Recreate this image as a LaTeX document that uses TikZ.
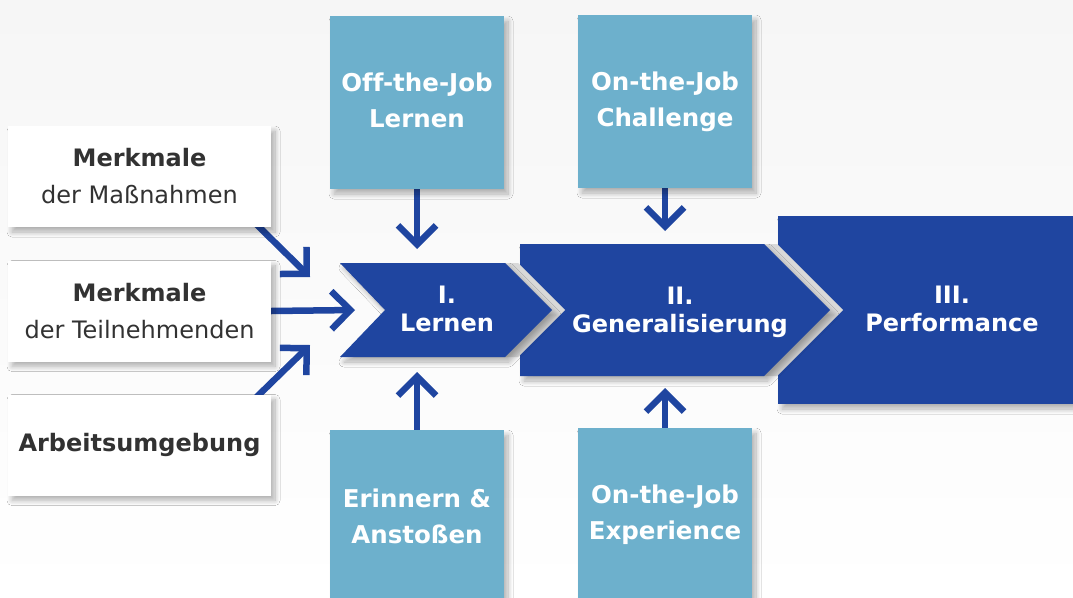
\documentclass[tikz,border=0pt]{standalone}
\usepackage{fontspec}
\setmainfont{DejaVu Sans}[Ligatures=NoCommon]
\usetikzlibrary{arrows.meta}
\usetikzlibrary{shadows.blur}
\definecolor{darkblue}{RGB}{31,69,160}
\definecolor{lightblue}{RGB}{109,176,204}
\definecolor{textgray}{RGB}{50,50,50}
\definecolor{backgray}{RGB}{246,246,246}
\pgfdeclarelayer{bg}
\pgfsetlayers{bg,main}

\begin{document}
\begin{tikzpicture}[x=1pt,y=-1pt,
	boxshadow/.style={blur shadow={shadow xshift=4pt,shadow yshift=-5pt,shadow blur radius=5pt,shadow blur steps=12,shadow opacity=30}},
	factorbox/.style={fill=white,boxshadow,minimum width=263pt,minimum height=101pt,inner sep=0pt,text=textgray,align=center,font=\fontsize{24}{37}\selectfont},
	supportbox/.style={fill=lightblue,boxshadow,minimum width=174pt,minimum height=173pt,inner sep=0pt,text=white,align=center,font=\bfseries\fontsize{24.5}{36}\selectfont},
	stagetext/.style={text=white,align=center,font=\bfseries\fontsize{24}{28}\selectfont},
	flow/.style={line width=6.5pt,darkblue,-{Straight Barb[length=19pt,width=38pt,sharp]}}
	]
	\useasboundingbox (0,0) rectangle (1073,597);
	\def\band{13};
	% stages
	\fill[darkblue,boxshadow] (778,216) rectangle (1130,404);
	\fill[gray!30] ({520+\band},244) -- ({764+\band},244) -- ({830+\band},310) -- ({764+\band},376) -- ({520+\band},376) -- cycle;
	\fill[darkblue,boxshadow] (520,244) -- (764,244) -- (830,310) -- (764,376) -- (520,376) -- cycle;
	\fill[gray!30] ({340+\band},263) -- ({505+\band},263) -- ({552+\band},310) -- ({505+\band},357) -- ({340+\band},357) -- ({385+\band},310) -- cycle;
	\fill[darkblue,boxshadow] (340,263) -- (505,263) -- (552,310) -- (505,357) -- (340,357) -- (385,310) -- cycle;
	\node[stagetext] (lernen) at (447,309) {I.\\Lernen};
	\node[stagetext] (general) at (680,312) {II.\\Generalisierung};
	\node[stagetext] (perf) at (952,309) {III.\\Performance};

	\node[supportbox] (offjob) at (417,102.5) {\raisebox{4pt}{Off-the-Job}\\\raisebox{4pt}{Lernen}};
	\node[supportbox] (challenge) at (665,101.5) {On-the-Job\\Challenge};
	\node[supportbox] (erinnern) at (417,516.5) {Erinnern \&\\Anstoßen};
	\node[supportbox] (experience) at (665,514.5) {On-the-Job\\Experience};

	\node[factorbox] (massn) at (139.5,176.5) {\textbf{Merkmale}\\der Maßnahmen};
	\node[factorbox] (teiln) at (139.5,311) {\textbf{Merkmale}\\der Teilnehmenden};
	\node[factorbox] (umgeb) at (139.5,445) {\textbf{Arbeitsumgebung}};

	\coordinate (inA) at (310,277);
	\coordinate (inB) at (355,310);
	\coordinate (inC) at (310,345);
	\coordinate (inOff) at (417,249);
	\coordinate (inChal) at (665,231);
	\coordinate (inErin) at (417,372);
	\coordinate (inExp) at (665,388);

	\begin{pgfonlayer}{bg}
		\shade[top color=backgray,bottom color=white] (0,0) rectangle (1073,597);
		\draw[flow] ([xshift=-20pt,yshift=8pt]massn.south east) -- (inA);
		\draw[flow] (teiln.east) -- (inB);
		\draw[flow] ([xshift=-20pt,yshift=-8pt]umgeb.north east) -- (inC);
		\draw[flow] (offjob.south) -- (inOff);
		\draw[flow] (challenge.south) -- (inChal);
		\draw[flow] (erinnern.north) -- (inErin);
		\draw[flow] (experience.north) -- (inExp);
	\end{pgfonlayer}
\end{tikzpicture}
\end{document}
